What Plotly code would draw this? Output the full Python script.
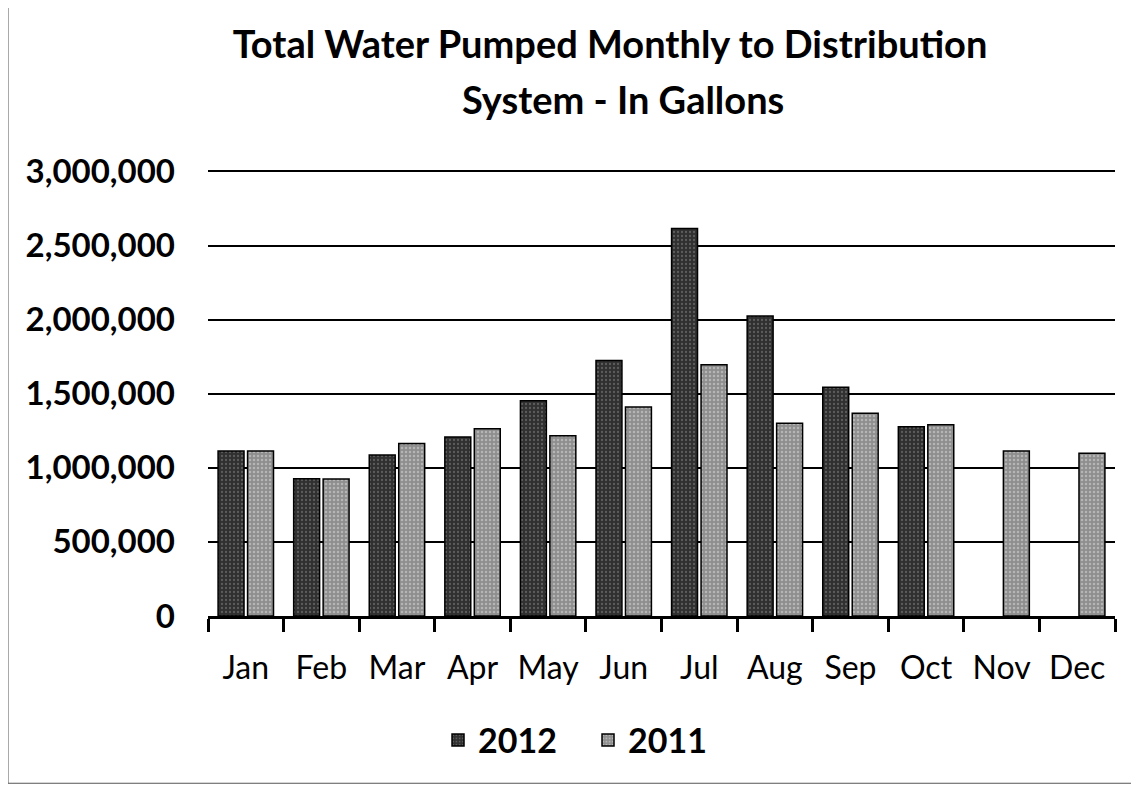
import plotly.graph_objects as go

months = ["Jan", "Feb", "Mar", "Apr", "May", "Jun", "Jul", "Aug", "Sep", "Oct", "Nov", "Dec"]
values_2012 = [1113000, 926000, 1086000, 1208000, 1452000, 1724000, 2615000, 2024000, 1544000, 1278000, None, None]
values_2011 = [1113000, 925000, 1165000, 1264000, 1217000, 1411000, 1695000, 1301000, 1369000, 1290000, 1114000, 1099000]
y_ticks = [0, 500000, 1000000, 1500000, 2000000, 2500000, 3000000]
title_line1 = "Total Water Pumped Monthly to Distribution"
title_line2 = "System - In Gallons"

FONT = "Lato"

fig = go.Figure()
fig.add_trace(go.Bar(
    name="2012", x=months, y=values_2012,
    marker=dict(
        color="#303030", line=dict(color="#000000", width=1.5),
        pattern=dict(shape=".", fgcolor="#8a8a8a", size=4, solidity=0.25, fillmode="overlay"),
    ),
))
fig.add_trace(go.Bar(
    name="2011", x=months, y=values_2011,
    marker=dict(
        color="#8e8e8e", line=dict(color="#000000", width=1.5),
        pattern=dict(shape=".", fgcolor="#dcdcdc", size=4, solidity=0.3, fillmode="overlay"),
    ),
))

fig.update_layout(
    width=1131, height=778,
    paper_bgcolor="white", plot_bgcolor="white",
    margin=dict(l=200, r=24, t=162, b=170),
    barmode="group", bargap=0.22, bargroupgap=0.12,
    title=dict(
        text=title_line1,
        x=602 / 1131, xanchor="center", y=1 - 37 / 778, yanchor="middle",
        font=dict(family=FONT, size=38, color="#000000", weight="bold"),
    ),
    font=dict(family=FONT, color="#000000"),
    legend=dict(
        orientation="h", x=0.2536, xanchor="left", y=-0.279, yanchor="middle",
        font=dict(family=FONT, size=34, weight="bold"),
        itemwidth=30, entrywidth=105, entrywidthmode="pixels",
    ),
    showlegend=True,
)
fig.add_annotation(
    text=title_line2, xref="paper", yref="paper",
    x=0.4575, y=1.16, xanchor="center", yanchor="middle", showarrow=False,
    font=dict(family=FONT, size=38, color="#000000", weight="bold"),
)
fig.update_yaxes(
    range=[0, 3010000], tickvals=y_ticks, tickformat=",",
    showgrid=True, gridcolor="#000000", gridwidth=1.5,
    showline=False, zeroline=False,
    tickfont=dict(family=FONT, size=33, weight="bold"),
    ticklabelstandoff=32,
)
fig.update_xaxes(
    showline=True, linecolor="#000000", linewidth=3,
    ticks="outside", tickson="boundaries", ticklen=13, tickwidth=3, tickcolor="#000000",
    tickfont=dict(family=FONT, size=32),
    ticklabelstandoff=22,
)
fig.add_shape(
    type="rect", xref="paper", yref="paper",
    x0=-0.2205, x1=1.022, y0=-0.375, y1=1.366,
    line=dict(color="#555555", width=1),
)
fig.write_html("out.html")
